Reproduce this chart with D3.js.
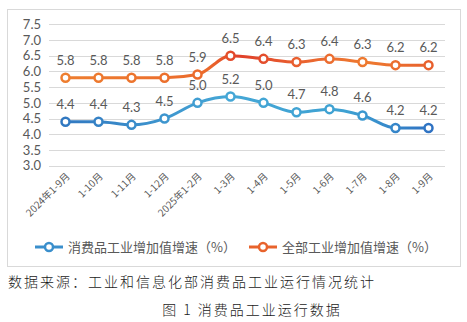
<!DOCTYPE html>
<html><head><meta charset="utf-8">
<script src="https://cdn.jsdelivr.net/npm/d3@7"></script>
<style>
html,body{margin:0;padding:0;background:#fff;}
svg{display:block;}
</style></head>
<body>
<svg id="c" width="467" height="322"></svg>
<script>
const categories = ["2024年1-9月","1-10月","1-11月","1-12月","2025年1-2月","1-3月","1-4月","1-5月","1-6月","1-7月","1-8月","1-9月"];
const consumerGrowth = [4.4,4.4,4.3,4.5,5.0,5.2,5.0,4.7,4.8,4.6,4.2,4.2];
const totalGrowth = [5.8,5.8,5.8,5.8,5.9,6.5,6.4,6.3,6.4,6.3,6.2,6.2];
const yTicks = [3.0,3.5,4.0,4.5,5.0,5.5,6.0,6.5,7.0,7.5];
const seriesNames = ["消费品工业增加值增速（%）","全部工业增加值增速（%）"];
const sourceText = "数据来源：工业和信息化部消费品工业运行情况统计";
const captionText = "图 1 消费品工业运行数据";

const svg = d3.select("#c");
const font = "'Noto Sans CJK SC','Microsoft YaHei',sans-serif";
const numFont = "Lato,'Open Sans',sans-serif";
const gray = "#595959";

// frame
svg.append("rect").attr("x",7.5).attr("y",9.5).attr("width",453).attr("height",257)
  .attr("fill","#fff").attr("stroke","#d9d9d9").attr("stroke-width",1);

const x = d3.scaleBand().domain(categories).range([49,445]);
const y = d3.scaleLinear().domain([3,7.5]).range([165.7,24.3]);
const cx = d => x(d) + x.bandwidth()/2;

// grid
svg.append("g").selectAll("line").data(yTicks).join("line")
  .attr("x1",49).attr("x2",445)
  .attr("y1",d=>Math.round(y(d))+0.5).attr("y2",d=>Math.round(y(d))+0.5)
  .attr("stroke","#d9d9d9").attr("stroke-width",1);

// y axis labels
svg.append("g").selectAll("text").data(yTicks).join("text")
  .attr("x",41).attr("y",d=>y(d)).attr("dy","0.36em")
  .attr("text-anchor","end").attr("font-family",numFont).attr("font-size",13)
  .attr("fill",gray).text(d=>d.toFixed(1));

// x labels
svg.append("g").selectAll("text").data(categories).join("text")
  .attr("transform",d=>`translate(${cx(d)+5},${177}) rotate(-45)`)
  .attr("text-anchor","end").attr("font-family",font).attr("font-size",10)
  .attr("fill",gray).text(d=>d);

// gradients
const defs = svg.append("defs");
function grad(id, stops){
  const g = defs.append("linearGradient").attr("id",id)
    .attr("gradientUnits","userSpaceOnUse").attr("x1",49).attr("x2",445).attr("y1",0).attr("y2",0);
  stops.forEach(s=>g.append("stop").attr("offset",s[0]).attr("stop-color",s[1]));
}
grad("gb",[[0,"#2f74bf"],[0.45,"#45a7d6"],[0.75,"#3ea1d2"],[1,"#2c6ac0"]]);
grad("go",[[0,"#ee8030"],[0.4,"#eb6a2c"],[0.48,"#e0402a"],[0.65,"#ea6530"],[0.8,"#ee7a30"],[1,"#e65a2c"]]);

const line = d3.line().x((d,i)=>cx(categories[i])).y(d=>y(d)).curve(d3.curveMonotoneX);

function drawSeries(vals, gid){
  svg.append("path").datum(vals).attr("d",line).attr("fill","none")
    .attr("stroke",`url(#${gid})`).attr("stroke-width",3).attr("stroke-linecap","round");
  svg.append("g").selectAll("circle").data(vals).join("circle")
    .attr("cx",(d,i)=>cx(categories[i])).attr("cy",d=>y(d)).attr("r",4)
    .attr("fill","#fff").attr("stroke",`url(#${gid})`).attr("stroke-width",2.5);
  svg.append("g").selectAll("text").data(vals).join("text")
    .attr("x",(d,i)=>cx(categories[i])).attr("y",d=>y(d)-13)
    .attr("text-anchor","middle").attr("font-family",numFont).attr("font-size",13)
    .attr("fill",gray).text(d=>d.toFixed(1));
}
drawSeries(consumerGrowth,"gb");
drawSeries(totalGrowth,"go");

// legend
const legend = [{name:seriesNames[0],color:"#3a8fcc",x:35},{name:seriesNames[1],color:"#e8632c",x:249}];
const lg = svg.append("g").selectAll("g").data(legend).join("g")
  .attr("transform",d=>`translate(${d.x},247)`);
lg.append("line").attr("x1",0).attr("x2",28).attr("y1",0).attr("y2",0)
  .attr("stroke",d=>d.color).attr("stroke-width",3);
lg.append("circle").attr("cx",14).attr("cy",0).attr("r",4).attr("fill","#fff")
  .attr("stroke",d=>d.color).attr("stroke-width",2.5);
lg.append("text").attr("x",33).attr("y",0).attr("dy","0.35em")
  .attr("font-family",font).attr("font-size",13).attr("fill",gray).text(d=>d.name);

// source + caption
svg.append("text").attr("x",8).attr("y",287).attr("font-family",font)
  .attr("font-size",14).attr("letter-spacing",2).attr("fill","#1a1a1a").attr("font-weight",300).text(sourceText);
svg.append("text").attr("x",252).attr("y",315).attr("text-anchor","middle").attr("font-family",font)
  .attr("font-size",14).attr("letter-spacing",2).attr("fill","#1a1a1a").attr("font-weight",300).text(captionText);
</script>
</body></html>
